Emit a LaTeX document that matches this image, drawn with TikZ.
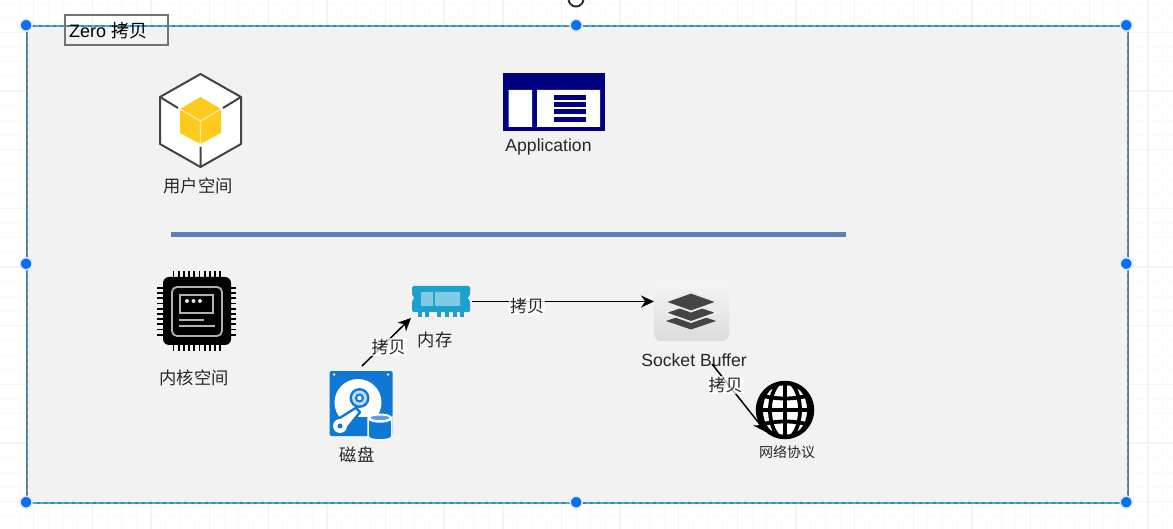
\documentclass[tikz,border=0pt]{standalone}
\usepackage{fontspec}
\setmainfont{Liberation Sans}
\newfontfamily\cjk{Noto Sans CJK SC}
\usetikzlibrary{arrows.meta,calc}
\definecolor{gridc}{HTML}{F3F3F3}
\definecolor{gridm}{HTML}{FAFAFA}
\definecolor{framefill}{HTML}{F2F2F2}
\definecolor{handle}{HTML}{0A6EF0}
\definecolor{seldash}{HTML}{29B6E8}
\definecolor{navy1}{HTML}{000080}
\definecolor{ramblue}{HTML}{1BA1D0}
\definecolor{ramlight}{HTML}{7FCBE6}
\definecolor{diskblue}{HTML}{0F78D4}
\definecolor{cubeyellow}{HTML}{FFCA1E}
\definecolor{dark}{HTML}{444444}
\definecolor{barblue}{HTML}{5B7FB8}
\tikzset{
  x=1pt,y=-1pt,
  hnd/.style={circle,fill=handle,draw=handle!15,line width=1.5pt,minimum size=12pt,inner sep=0pt,xshift=-1.2pt,yshift=0.8pt},
  lab/.style={inner sep=0pt,text=black!85,font=\cjk\fontsize{17.3}{19}\selectfont},
  enlab/.style={inner sep=0pt,text=black!85,font=\fontsize{17.6}{20}\selectfont},
  edgelab/.style={fill=white,fill opacity=.75,text opacity=1,inner sep=1pt,text=black!85,font=\cjk\fontsize{17}{19}\selectfont},
  conn/.style={draw=black,line width=1.5pt,-{Stealth[length=13pt,width=12pt]}},
  icon/.style={inner sep=0pt,outer sep=0pt,draw=none},
}
\begin{document}
\begin{tikzpicture}
\useasboundingbox (0,0) rectangle (1173,529);
\fill[white] (0,0) rectangle (1173,529);
% page grid
\foreach \g in {-1,0,...,80}{
  \draw[gridm,line width=.8pt] ({33.6+14.66*\g},0) -- ({33.6+14.66*\g},529);
}
\foreach \g in {-2,-1,...,36}{
  \draw[gridm,line width=.8pt] (0,{32.5+14.66*\g}) -- (1173,{32.5+14.66*\g});
}
\foreach \g in {0,1,...,19}{
  \draw[gridc,line width=1.4pt] ({33.6+58.65*\g},0) -- ({33.6+58.65*\g},529);
}
\foreach \g in {0,1,...,8}{
  \draw[gridc,line width=1.4pt] (0,{32.5+58.65*\g}) -- (1173,{32.5+58.65*\g});
}
% frame
\node[icon,minimum width=1100.2pt,minimum height=477pt,fill=framefill] (frame) at (577.4,264.5) {};
\draw[black!55,line width=2pt] (frame.north west) rectangle (frame.south east);
\draw[seldash,line width=1.4pt,dash pattern=on 4pt off 3pt] (frame.north west) rectangle (frame.south east);
% title
\node[icon,draw=black!55,line width=2pt,minimum width=103pt,minimum height=30pt] (title) at (116.5,30.5) {};
\node[anchor=west,inner sep=0pt,font=\fontsize{18}{20}\selectfont] (titletext) at (69,31) {Zero {\cjk 拷贝}};
% user-space cube
\node[icon,minimum width=82pt,minimum height=94pt] (cube) at (200.5,120) {};
\draw[dark,fill=white,line width=2pt,line join=round] (200.5,74) -- (241,97) -- (241,144) -- (200.5,167) -- (160,144) -- (160,97) -- cycle;
\draw[dark,line width=2pt] (160,97) -- (178,108) (241,97) -- (223,108) (200.5,167) -- (200.5,147);
\fill[cubeyellow] (200.5,97) -- (221,109) -- (221,133) -- (200.5,144) -- (180,133) -- (180,109) -- cycle;
\draw[white!60!cubeyellow,line width=1.2pt] (180,109) -- (200.5,121) -- (221,109) (200.5,121) -- (200.5,144);
\node[lab] (ulabel) at (198,186) {用户空间};
% application
\node[icon,fill=navy1,minimum width=102pt,minimum height=58pt] (app) at (554,102) {};
\fill[white] (508.5,90) rectangle (532,127) (537,90) rectangle (600,127);
\foreach \yy in {95,102,109.5,117}{\fill[navy1] (554,\yy) rectangle (586,\yy+5);}
\node[enlab] (applabel) at (548.5,147) {Application};
% divider
\coordinate (divl) at (171,234.5);
\coordinate (divr) at (846,234.5);
\draw[barblue,line width=5pt] (divl) -- (divr);
% kernel chip
\node[icon,minimum width=80pt,minimum height=80pt] (chip) at (196.5,311) {};
\foreach \k in {0,...,9}{
  \draw[black,line width=1.8pt] ({173.5+5.2*\k},271) -- ({173.5+5.2*\k},351);
  \draw[black,line width=1.8pt] (157,{288+5.2*(\k)}) -- (236,{288+5.2*(\k)});
}
\fill[black,rounded corners=6pt] (163,277) rectangle (231,345);
\draw[black!30,line width=1.8pt,rounded corners=5pt] (172,287) rectangle (222,336);
\draw[black!30,line width=1.5pt] (180,295) rectangle (213,313);
\foreach \xx in {187,193.5,200}{\fill[black!10] (\xx,301) circle (2pt);}
\draw[black!30,line width=1.8pt] (179,320) -- (204,320) (179,326) -- (215,326);
\node[lab] (klabel) at (194,378) {内核空间};
% memory
\node[icon,minimum width=58pt,minimum height=31pt] (ram) at (441,301.5) {};
\fill[ramblue,rounded corners=1.5pt] (412,286) -- (470,286) -- (470,295.5) -- (467,298) -- (470,300.5) -- (470,312) -- (412,312) -- (412,300.5) -- (415,298) -- (412,295.5) -- cycle;
\fill[ramlight] (421,292) rectangle (433,306) (435,292) rectangle (460,306);
\foreach \xx in {417.5,425,437,445,452.5,460}{\fill[ramblue] (\xx,312) rectangle (\xx+4,317);}
\node[lab] (mlabel) at (435,340) {内存};
% disk
\node[icon,minimum width=63pt,minimum height=65pt] (disk) at (361,403.5) {};
\fill[diskblue,rounded corners=1.5pt] (329.5,371) rectangle (392.5,436);
\fill[white!75!diskblue] (334,374.5) circle (1.5pt) (388,374.5) circle (1.5pt);
\begin{scope}
  \clip (329,371) rectangle (393,416.5);
  \fill[white] (358,402.5) circle (23.5pt);
\end{scope}
\fill[diskblue] (359.5,398) circle (10pt);
\fill[white!72!diskblue] (359.5,398) circle (7.5pt);
\fill[diskblue] (359.5,398) circle (4.5pt);
\fill[white] (359.5,398) circle (2.2pt);
\fill[diskblue] (340,426) circle (8.2pt);
\draw[diskblue,fill=white,line width=2.4pt,line join=round] (344.7,431.25) -- (360,412.25) -- (356,407.75) -- (335.3,420.75) -- cycle;
\fill[white] (340,426) circle (7pt);
\fill[diskblue] (340,426) circle (2.5pt);
% disk drum
\draw[white,fill=diskblue,line width=1.5pt] (368.2,418) -- (368.2,436.5) arc[start angle=180,end angle=360,x radius=11.8pt,y radius=3.5pt] -- (391.8,418) arc[start angle=0,end angle=180,x radius=11.8pt,y radius=-4pt] -- cycle;
\fill[white] (380,417.5) ellipse (11.8pt and 4pt);
\fill[white!30!diskblue] (380,417.8) ellipse (9.5pt and 2.2pt);
\node[lab] (dlabel) at (357,455) {磁盘};
% socket buffer
\node[icon,minimum width=75pt,minimum height=59pt,rounded corners=7pt,top color=white!96!black,bottom color=black!14] (sock) at (691.5,311.5) {};
\fill[dark] (666,321) -- (691,312.5) -- (716,321) -- (691,329.5) -- cycle;
\draw[white!92!black,fill=dark,line width=1.8pt] (664.5,312.7) -- (691,303.5) -- (717.5,312.7) -- (691,322) -- cycle;
\draw[white!92!black,fill=dark,line width=1.8pt] (664.5,302) -- (691,292.5) -- (717.5,302) -- (691,311.5) -- cycle;
\node[enlab] (slabel) at (694,360) {Socket Buffer};
% globe
\node[icon,minimum width=58pt,minimum height=58pt] (globe) at (785,410) {};
\fill[white] (785,410) circle (28pt);
\begin{scope}
  \clip (785,410) circle (28pt);
  \draw[black,line width=3.8pt] (785,381) -- (785,439);
  \draw[black,line width=3.8pt] (785,410) ellipse (15pt and 29pt);
  \draw[black,line width=3.8pt] (756,410) -- (814,410);
  \draw[black,line width=3.8pt] (756,394) .. controls (775,400) and (795,400) .. (814,394);
  \draw[black,line width=3.8pt] (756,426) .. controls (775,420) and (795,420) .. (814,426);
  \draw[black,line width=3.8pt] (785,410) ellipse (24pt and 29pt);
\end{scope}
\draw[black,line width=4.5pt] (785,410) circle (27pt);
\node[lab,font=\cjk\fontsize{14}{16}\selectfont] (glabel) at (787,452) {网络协议};
% connectors
\coordinate (diskout) at (362,366);
\coordinate (ramin) at (411,318);
\coordinate (sockout) at (712,364);
\coordinate (globein) at (766,432);
\draw[conn] (diskout) -- (ramin);
\draw[conn,shorten <=2pt] (ram.east) -- (ram.east -| sock.west);
\draw[conn] (sockout) -- (globein);
\node[edgelab] (e1) at (388.5,347) {拷贝};
\node[edgelab] (e2) at (527,306) {拷贝};
\node[edgelab] (e3) at (725.5,385) {拷贝};
% selection handles
\foreach \p/\n in {north west/a,north/b,north east/c,west/d,east/e,south west/f,south/g,south east/h}{
  \node[hnd] (h\n) at (frame.\p) {};
}
\coordinate (rot) at (576,-1);
\draw[black!80,line width=2pt] (rot) circle (7.5pt);
\end{tikzpicture}
\end{document}
